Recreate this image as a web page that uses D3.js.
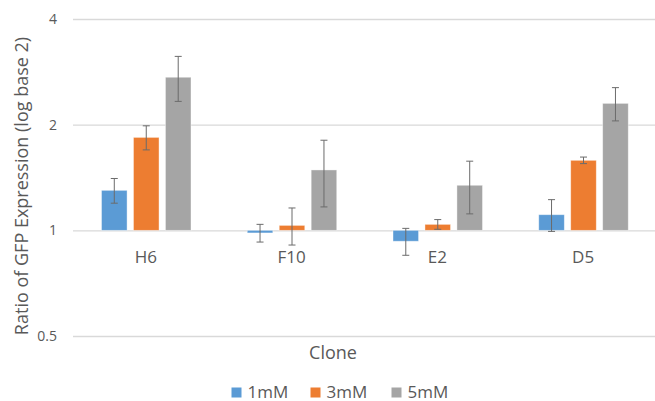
<!DOCTYPE html>
<html>
<head>
<meta charset="utf-8">
<script src="https://cdn.jsdelivr.net/npm/d3@7"></script>
<style>
  body { margin: 0; background: #fff; }
  text { font-family: "Open Sans", sans-serif; fill: #595959; }
</style>
</head>
<body>
<div id="chart"></div>
<script>
// Data
const clones = ["H6", "F10", "E2", "D5"];
const seriesNames = ["1mM", "3mM", "5mM"];
const values1mM = [1.30, 0.983, 0.931, 1.108];
const values3mM = [1.84, 1.033, 1.04, 1.583];
const values5mM = [2.73, 1.486, 1.344, 2.30];
const errors1mM = [0.105, 0.057, 0.082, 0.115];
const errors3mM = [0.145, 0.125, 0.033, 0.034];
const errors5mM = [0.40, 0.32, 0.23, 0.25];
const yTicks = [0.5, 1, 2, 4];

const colors = ["#5B9BD5", "#ED7D31", "#A5A5A5"];
const seriesValues = [values1mM, values3mM, values5mM];
const seriesErrors = [errors1mM, errors3mM, errors5mM];

const width = 655;
const height = 401;

const svg = d3
    .select("#chart")
    .append("svg")
    .attr("width", width)
    .attr("height", height);

// Scales
const x = d3.scaleBand().domain(clones).range([73, 656]);
const xInner = d3.scaleBand().domain(seriesNames).range([28.5, 118]).paddingInner(0.2);
const y = d3.scaleLog().base(2).domain([0.5, 4]).range([336, 19]);

// Gridlines + tick labels
const yAxis = d3.axisLeft(y).tickValues(yTicks).tickFormat(d3.format("")).tickSize(-(656 - 73)).tickPadding(16);
const gy = svg.append("g").attr("transform", "translate(73,0)").call(yAxis);
gy.select(".domain").remove();
gy.selectAll(".tick line").attr("stroke", "#D9D9D9").attr("stroke-width", 1.3);
gy.selectAll(".tick text").style("font-size", "14px").attr("fill", "#595959");

// Build rows for bars
const rows = [];
clones.forEach((c, i) => {
    seriesNames.forEach((s, j) => {
        rows.push({ clone: c, series: s, value: seriesValues[j][i], err: seriesErrors[j][i], color: colors[j] });
    });
});

const groups = svg.append("g");

// Bars grow from 1 (baseline)
groups.selectAll(".bar")
    .data(rows)
    .enter()
    .append("rect")
    .attr("class", "bar")
    .attr("x", (d) => x(d.clone) + xInner(d.series))
    .attr("width", xInner.bandwidth())
    .attr("y", (d) => Math.min(y(d.value), y(1)))
    .attr("height", (d) => Math.abs(y(d.value) - y(1)))
    .attr("fill", (d) => d.color)
    .attr("stroke", "#ffffff")
    .attr("stroke-opacity", 0.5)
    .attr("stroke-width", 0.8);

// Error bars
const eb = groups.selectAll(".err")
    .data(rows)
    .enter()
    .append("g")
    .attr("class", "err")
    .attr("stroke", "#6b6b6b")
    .attr("stroke-width", 1);

const cx = (d) => x(d.clone) + xInner(d.series) + xInner.bandwidth() / 2;

eb.append("line")
    .attr("x1", cx).attr("x2", cx)
    .attr("y1", (d) => y(d.value + d.err))
    .attr("y2", (d) => y(d.value - d.err));
eb.append("line")
    .attr("x1", (d) => cx(d) - 3.5).attr("x2", (d) => cx(d) + 3.5)
    .attr("y1", (d) => y(d.value + d.err))
    .attr("y2", (d) => y(d.value + d.err));
eb.append("line")
    .attr("x1", (d) => cx(d) - 3.5).attr("x2", (d) => cx(d) + 3.5)
    .attr("y1", (d) => y(d.value - d.err))
    .attr("y2", (d) => y(d.value - d.err));

// Category labels under baseline 1
svg.append("g")
    .selectAll(".cat")
    .data(clones)
    .enter()
    .append("text")
    .attr("class", "cat")
    .attr("x", (d) => x(d) + x.bandwidth() / 2)
    .attr("y", 263)
    .attr("text-anchor", "middle")
    .style("font-size", "17px")
    .text((d) => d);

// Axis titles
svg.append("text")
    .attr("x", 333)
    .attr("y", 359)
    .attr("text-anchor", "middle")
    .style("font-size", "18px")
    .text("Clone");

svg.append("text")
    .attr("transform", "translate(28,186) rotate(-90)")
    .attr("text-anchor", "middle")
    .style("font-size", "18px")
    .text("Ratio of GFP Expression (log base 2)");

// Legend
const legendX = [231.5, 310.5, 391.5];
const legend = svg.append("g")
    .selectAll(".legend")
    .data(seriesNames)
    .enter()
    .append("g")
    .attr("class", "legend")
    .attr("transform", (d, i) => `translate(${legendX[i]},387.5)`);

legend.append("rect")
    .attr("width", 10)
    .attr("height", 10)
    .attr("fill", (d, i) => colors[i]);

legend.append("text")
    .attr("x", 16)
    .attr("y", 10)
    .style("font-size", "17px")
    .text((d) => d);
</script>
</body>
</html>
